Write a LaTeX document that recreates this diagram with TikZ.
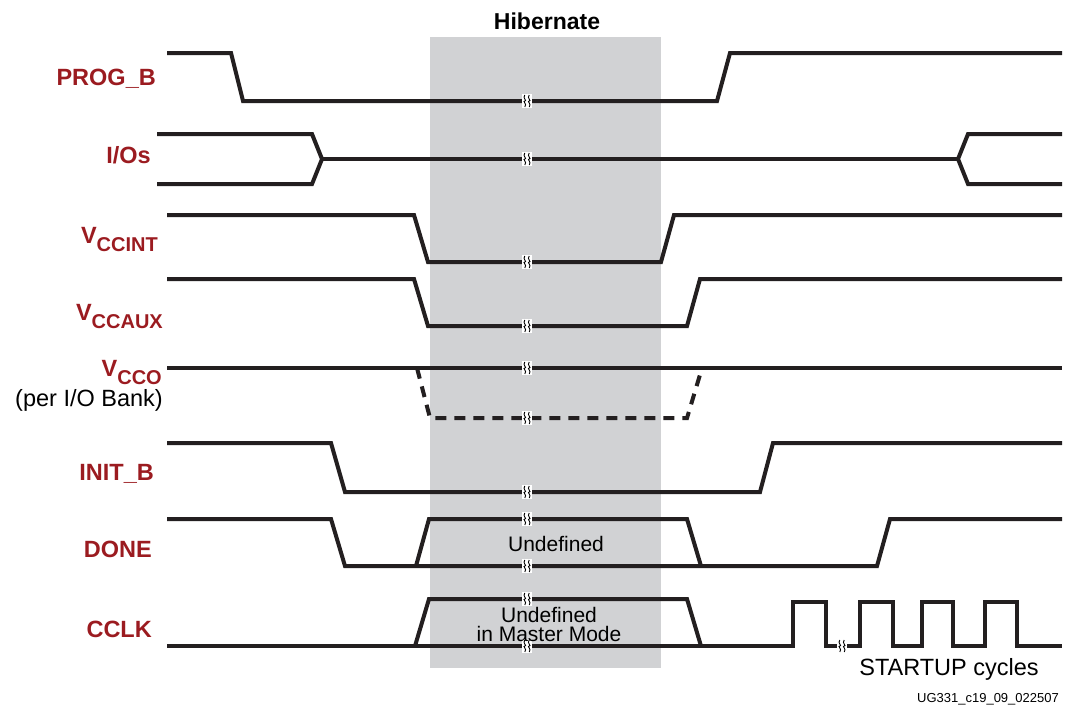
\documentclass[tikz,border=0pt]{standalone}
\usepackage{fontspec}
\setmainfont{Liberation Sans}
\definecolor{hibgray}{RGB}{209,210,212}
\definecolor{lblred}{RGB}{155,27,32}
\definecolor{sigblk}{RGB}{35,31,32}
\tikzset{
  sig/.style={line width=4pt, draw=sigblk},
  sigdash/.style={sig, dash pattern=on 11pt off 8pt},
  lbl/.style={text=lblred, font=\fontsize{23.5}{28}\selectfont\bfseries, inner sep=0pt},
  plain/.style={text=black, font=\fontsize{21}{16}\selectfont, inner sep=0pt, align=center},
  brk/.pic={
    \fill[white] (-5,-7) rectangle (5,7);
    \foreach \dx in {-2.2,2.2}{
      \draw[line width=0.9pt, black, shift={(\dx,0)}] (0,-6) .. controls (-2.8,-3) and (2.8,0) .. (0,0) .. controls (-2.8,0) and (2.8,3) .. (0,6);
    }
  }
}
\begin{document}
\begin{tikzpicture}[x=1pt,y=-1pt]
\useasboundingbox (0,0) rectangle (1067,705);
% hibernate band
\fill[hibgray] (430,37) rectangle (661,668);
\node[font=\fontsize{23}{28}\selectfont\bfseries, inner sep=0pt, anchor=base] (hib) at (547,29) {Hibernate};

% PROG_B
\draw[sig] (167,53) -- (231,53) -- (243,101) -- (717,101) -- (730,53) -- (1062,53);
% I/Os
\draw[sig] (157,134) -- (312,134) -- (322,159) -- (312,184) -- (157,184);
\draw[sig] (322,159) -- (958,159);
\draw[sig] (1062,134) -- (968,134) -- (958,159) -- (968,184) -- (1062,184);
% VCCINT
\draw[sig] (167,215) -- (414,215) -- (428,262) -- (661,262) -- (674,215) -- (1062,215);
% VCCAUX
\draw[sig] (167,279) -- (414,279) -- (428,326) -- (687,326) -- (700,279) -- (1062,279);
% VCCO
\draw[sig] (167,368) -- (1062,368);
\draw[sigdash] (417,368) -- (430,418) -- (687,418) -- (702,368);
% INIT_B
\draw[sig] (167,443) -- (331,443) -- (345,492) -- (760,492) -- (773,443) -- (1062,443);
% DONE
\draw[sig] (167,519) -- (331,519) -- (345,566) -- (877,566) -- (890,519) -- (1062,519);
\draw[sig] (416,566) -- (429,519) -- (687,519) -- (701,566);
% CCLK
\draw[sig] (167,646) -- (793,646) -- (793,602) -- (826,602) -- (826,646) -- (860,646)
  -- (860,602) -- (893,602) -- (893,646) -- (922,646) -- (922,602) -- (953,602)
  -- (953,646) -- (985,646) -- (985,602) -- (1017,602) -- (1017,646) -- (1062,646);
\draw[sig] (415,646) -- (429,599) -- (687,599) -- (701,646);

% break marks
\foreach \yy in {101,159,262,326,368,418,492,519,566,599,646}{
  \pic at (527,\yy) {brk};
}
\pic at (842,646) {brk};

% labels
\node[lbl, anchor=base east] (lprogb) at (156,85) {PROG\_B};
\node[lbl, anchor=base east] (lios) at (151,163) {I/Os};
\node[lbl, anchor=base east] (lvccint) at (158,243) {V\raisebox{-8pt}{\fontsize{20}{20}\selectfont\bfseries CCINT}};
\node[lbl, anchor=base east] (lvccaux) at (163,320) {V\raisebox{-8pt}{\fontsize{20}{20}\selectfont\bfseries CCAUX}};
\node[lbl, anchor=base east] (lvcco) at (162,376) {V\raisebox{-8pt}{\fontsize{20}{20}\selectfont\bfseries CCO}};
\node[plain, font=\fontsize{23.5}{28}\selectfont, anchor=base east] (lbank) at (163,406) {(per I/O Bank)};
\node[lbl, anchor=base east] (linitb) at (154,480) {INIT\_B};
\node[lbl, anchor=base east] (ldone) at (152,557) {DONE};
\node[lbl, anchor=base east] (lcclk) at (152,637) {CCLK};

% annotations
\node[plain, anchor=base] (und1) at (556,551) {Undefined};
\node[plain, anchor=base] (und2) at (549,622) {Undefined};
\node[plain, anchor=base] (und3) at (549,641) {in Master Mode};
\node[plain, font=\fontsize{23.5}{28}\selectfont, anchor=base] (startup) at (949,675) {STARTUP cycles};
\node[plain, font=\fontsize{13}{15}\selectfont, anchor=base] (fig) at (988,702) {UG331\_c19\_09\_022507};
\end{tikzpicture}
\end{document}
